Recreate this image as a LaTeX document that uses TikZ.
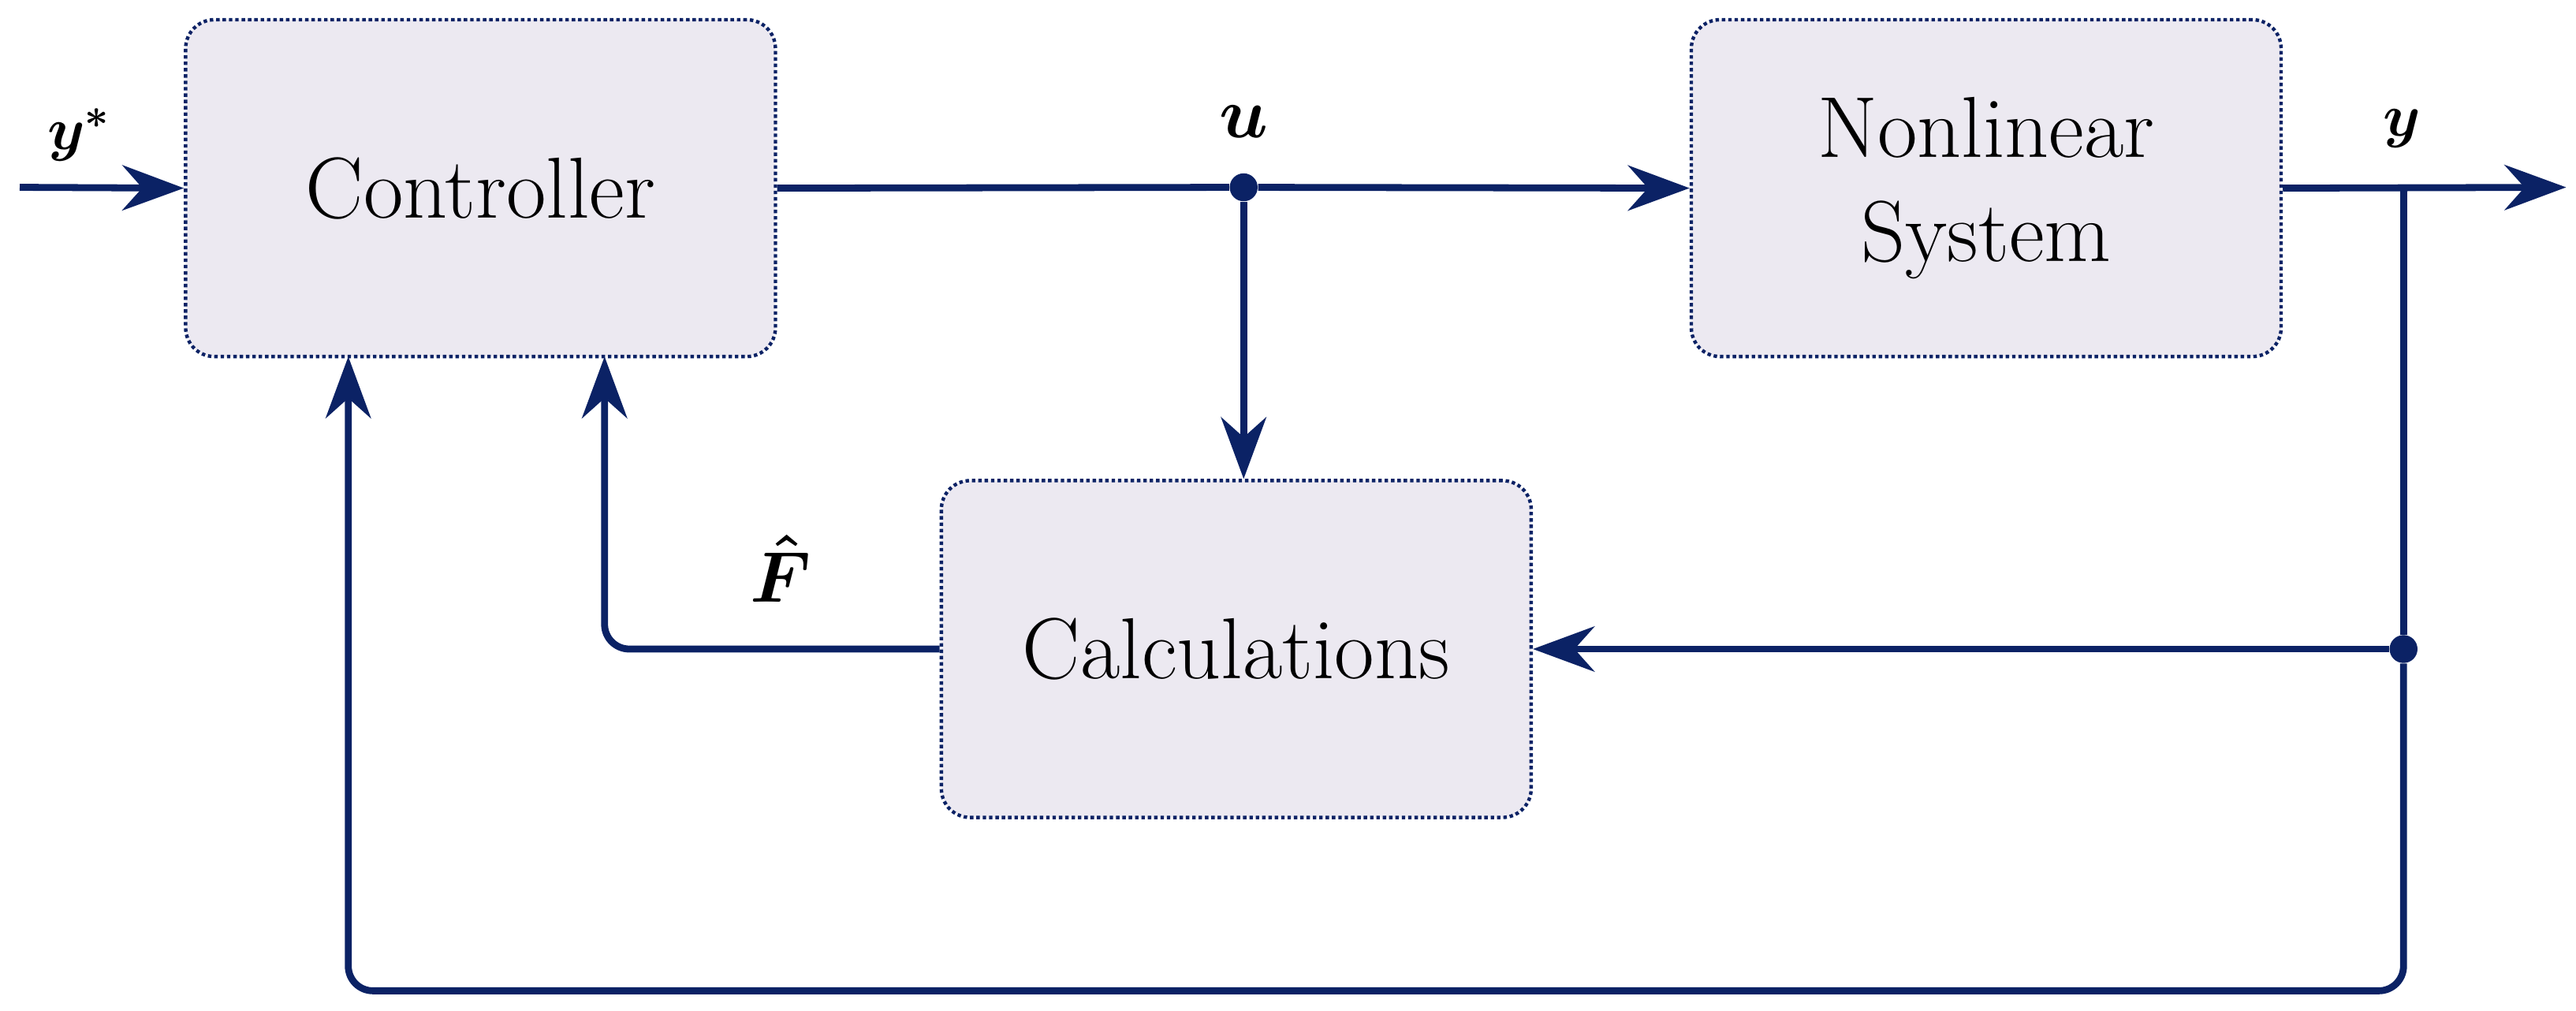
\documentclass[tikz,border=0pt]{standalone}
\usepackage{amsmath,bm}
\usetikzlibrary{arrows.meta}
\definecolor{navy}{HTML}{0B2265}
\definecolor{boxfill}{HTML}{ECE9F1}
\begin{document}
\begin{tikzpicture}[x=0.02cm,y=-0.02cm,
  blk/.style={draw=navy,densely dotted,line width=1.2pt,fill=boxfill,rounded corners=0.35cm,minimum width=359*0.02cm,minimum height=205*0.02cm,font=\fontsize{30}{36}\selectfont,align=center},
  ln/.style={draw=navy,line width=2.4pt,rounded corners=0.3cm},
  arr/.style={ln,-{Stealth[length=0.75cm,width=0.55cm]}},
  lbl/.style={text=black,font=\fontsize{22}{26}\selectfont},
  lblb/.style={text=black,font=\fontsize{32}{36}\selectfont},
  dot/.style={circle,fill=navy,inner sep=0pt,minimum size=0.34cm}]
\useasboundingbox (0,0) rectangle (1568,615);
\node[blk] (ctrl) at (292.5,114.5) {Controller};
\node[blk] (sys) at (1209,114.5) {Nonlinear\\System};
\node[blk] (calc) at (752.5,395) {Calculations};
\coordinate (in) at (12,114);
\coordinate (out) at (1562,114);
\node[dot] (u) at (757,114) {};
\node[dot] (yd) at (1463,395) {};
\coordinate (yb) at (1463,114);
\draw[arr] (in) -- (ctrl.west);
\draw[ln] (ctrl.east) -- (u);
\draw[arr] (u) -- (sys.west);
\draw[arr] (sys.east) -- (out);
\draw[arr] (u) -- (u |- calc.north);
\draw[ln] (yb) -- (yd);
\draw[arr] (yd) -- (calc.east);
\draw[arr] (yd) -- (1463,603) -- (212,603) -- (212,217);
\draw[arr] (calc.west) -- (368,395) -- (368,217);
\node[lbl] (ys) at (48,82) {$\bm{y^{*}}$};
\node[lblb] (ul) at (757,74) {$\bm{u}$};
\node[lbl] (yl) at (1462,78) {$\bm{y}$};
\node[lblb] (fl) at (475,346) {$\bm{\hat{F}}$};
\end{tikzpicture}
\end{document}
